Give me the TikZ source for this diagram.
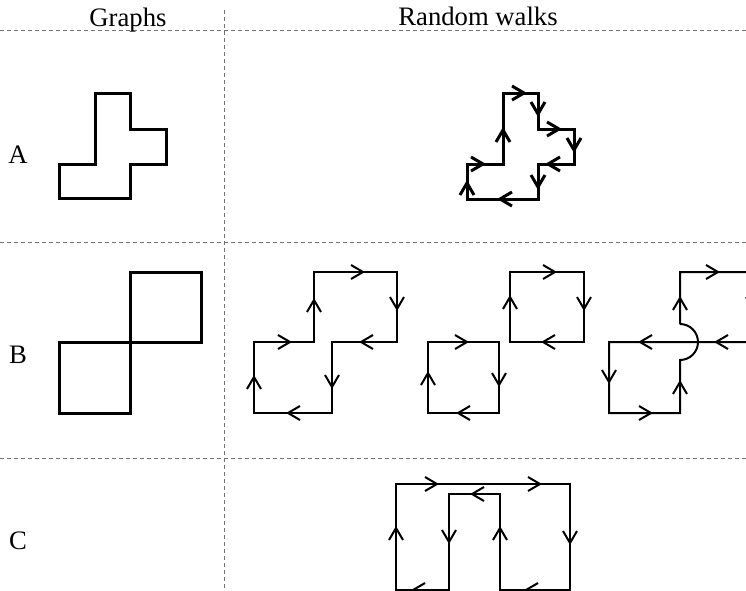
\documentclass[tikz,border=0pt]{standalone}
\usepackage{fontspec}
\setmainfont{Liberation Serif}
\begin{document}
\begin{tikzpicture}[x=0.75pt,y=-0.75pt,
  grid/.style={draw=gray!90!black, line width=0.75pt, dash pattern=on 3pt off 2.25pt},
  gline/.style={line width=2.25pt, line join=miter},
  wthick/.style={line width=2.25pt, line join=miter},
  wthin/.style={line width=1.5pt, line join=miter},
  lab/.style={font=\fontsize{20}{24}\selectfont, inner sep=0pt},
  chev/.pic={\draw[line join=miter] (-12,-7) -- (0,0) -- (-12,7);}]
\useasboundingbox (0,0) rectangle (746,590);
\clip (0,0) rectangle (746,590);
% grid
\draw[grid] (0,30) -- (746,30);
\draw[grid] (0,242) -- (746,242);
\draw[grid] (0,458) -- (746,458);
\draw[grid] (224,10) -- (224,590);
% headers
\node[lab, anchor=base] (hg) at (128,26) {Graphs};
\node[lab, anchor=base] (hr) at (478,25) {Random walks};
% row labels
\node[lab] (la) at (18,155) {A};
\node[lab] (lb) at (18,355) {B};
\node[lab] (lc) at (18,541) {C};
% graph A
\draw[gline] (95,93) -- (130,93) -- (130,129) -- (166,129) -- (166,164) -- (130,164)
  -- (130,198) -- (59,198) -- (59,164) -- (95,164) -- cycle;
% graph B
\draw[gline] (130,272) rectangle (201,342);
\draw[gline] (59,342) rectangle (130,413);
% walk A
\draw[wthick] (503,93) -- (538,93) -- (538,129) -- (574,129) -- (574,164) -- (538,164)
  -- (538,199) -- (467,199) -- (467,164) -- (503,164) -- cycle;
\begin{scope}[wthick]
\pic[rotate=0] at (524,93) {chev};
\pic[rotate=-90] at (538,114) {chev};
\pic[rotate=0] at (559,129) {chev};
\pic[rotate=-90] at (574,150) {chev};
\pic[rotate=180] at (548,164) {chev};
\pic[rotate=-90] at (538,187) {chev};
\pic[rotate=180] at (500,199) {chev};
\pic[rotate=90] at (467,183) {chev};
\pic[rotate=0] at (483,164) {chev};
\pic[rotate=90] at (503,130) {chev};
\end{scope}
% walk B1
\draw[wthin] (254,342) -- (314,342) -- (314,272) -- (397,272) -- (397,342) -- (332,342)
  -- (332,413) -- (254,413) -- cycle;
\begin{scope}[wthin]
\pic[rotate=0] at (290,342) {chev};
\pic[rotate=90] at (314,300) {chev};
\pic[rotate=0] at (363,272) {chev};
\pic[rotate=-90] at (397,309) {chev};
\pic[rotate=180] at (361,342) {chev};
\pic[rotate=-90] at (332,387) {chev};
\pic[rotate=180] at (288,413) {chev};
\pic[rotate=90] at (254,377) {chev};
\end{scope}
% walk B2
\draw[wthin] (510,272) rectangle (584,342);
\draw[wthin] (428,342) rectangle (499,413);
\begin{scope}[wthin]
\pic[rotate=0] at (555,272) {chev};
\pic[rotate=-90] at (584,309) {chev};
\pic[rotate=180] at (543,342) {chev};
\pic[rotate=90] at (510,297) {chev};
\pic[rotate=0] at (467,342) {chev};
\pic[rotate=-90] at (499,385) {chev};
\pic[rotate=180] at (458,413) {chev};
\pic[rotate=90] at (428,373) {chev};
\end{scope}
% walk B3
\draw[wthin] (680,324) -- (680,272) -- (753,272) -- (753,342) -- (609,342) -- (609,413)
  -- (680,413) -- (680,360) arc[start angle=90, end angle=-90, radius=18];
\begin{scope}[wthin]
\pic[rotate=0] at (718,272) {chev};
\pic[rotate=-90] at (753,309) {chev};
\pic[rotate=90] at (680,298) {chev};
\pic[rotate=180] at (716,342) {chev};
\pic[rotate=180] at (640,342) {chev};
\pic[rotate=-90] at (609,382) {chev};
\pic[rotate=0] at (651,413) {chev};
\pic[rotate=90] at (680,382) {chev};
\end{scope}
% walk C
\draw[wthin] (449,590) -- (396,590) -- (396,484) -- (570,484) -- (570,590) -- (500,590)
  -- (500,494) -- (449,494) -- cycle;
\begin{scope}[wthin]
\pic[rotate=0] at (437,484) {chev};
\pic[rotate=0] at (540,484) {chev};
\pic[rotate=180] at (472,494) {chev};
\pic[rotate=90] at (396,528) {chev};
\pic[rotate=-90] at (449,542) {chev};
\pic[rotate=90] at (500,528) {chev};
\pic[rotate=-90] at (570,543) {chev};
\pic[rotate=180] at (413,590) {chev};
\pic[rotate=180] at (526,590) {chev};
\end{scope}
\end{tikzpicture}
\end{document}
